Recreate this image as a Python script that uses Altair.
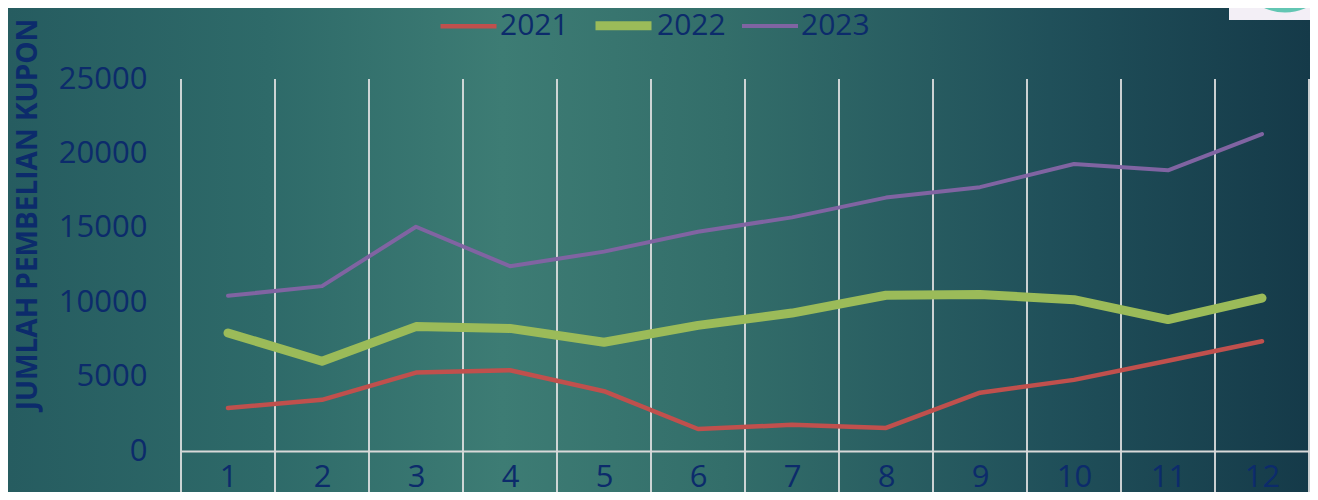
import altair as alt
import pandas as pd

months = [1, 2, 3, 4, 5, 6, 7, 8, 9, 10, 11, 12]
years = ["2021", "2022", "2023"]
y2021 = [2890, 3440, 5270, 5430, 4020, 1480, 1760, 1550, 3920, 4780, 6070, 7380]
y2022 = [7930, 6030, 8360, 8240, 7310, 8440, 9270, 10470, 10520, 10170, 8830, 10280]
y2023 = [10430, 11080, 15070, 12420, 13400, 14740, 15700, 17030, 17730, 19290, 18860, 21300]
y_ticks = [0, 5000, 10000, 15000, 20000, 25000]

colors = ["#C0504D", "#9BBB59", "#8064A2"]
widths = [4.5, 9, 4]
navy = "#0C2B6B"
FONT = "Open Sans"

rows = []
for yr, vals in zip(years, [y2021, y2022, y2023]):
    for m, v in zip(months, vals):
        rows.append({"month": m, "value": v, "year": yr})
df = pd.DataFrame(rows)

bounds = pd.DataFrame({"month": [m - 0.5 for m in months] + [months[-1] + 0.5]})
one = pd.DataFrame({"a": [0]})

W, H = 1128, 372
PL, PT, PR, PB = 173, 71, 1, 41

xscale = alt.Scale(domain=[months[0] - 0.5, months[-1] + 0.5], nice=False, zero=False)
yscale = alt.Scale(domain=[0, 25000], nice=False)

xaxis = alt.Axis(values=months, format="d", ticks=False, grid=False,
                 domainColor="#D9D9D9", domainWidth=2, zindex=1,
                 labelFont=FONT, labelFontSize=31, labelColor=navy,
                 labelPadding=11, labelFlush=False)

bg = alt.Chart(one).mark_rect(
    color=alt.LinearGradient(
        gradient="linear", x1=0, y1=0, x2=1, y2=0,
        stops=[
            alt.GradientStop(color="#265C60", offset=0),
            alt.GradientStop(color="#2E6A69", offset=0.2),
            alt.GradientStop(color="#3D7C74", offset=0.38),
            alt.GradientStop(color="#336E6A", offset=0.55),
            alt.GradientStop(color="#20505A", offset=0.8),
            alt.GradientStop(color="#153A49", offset=1),
        ],
    )
).encode(
    x=alt.value(-PL), x2=alt.value(W + PR),
    y=alt.value(-PT), y2=alt.value(H + PB),
)

deco_rect = alt.Chart(one).mark_rect(color="#F3EFF6").encode(
    x=alt.value(1221 - PL), x2=alt.value(W + PR),
    y=alt.value(-PT), y2=alt.value(12 - PT),
)
deco_circle = alt.Chart(one).mark_point(
    filled=True, shape="circle", color="#62C6B3", opacity=1, size=10568
).encode(
    x=alt.value(1277 - PL), y=alt.value(-47 - PT),
)

grid = alt.Chart(bounds).mark_rule(color="#E4E4E4", strokeWidth=1.75).encode(
    x=alt.X("month:Q", scale=xscale, title=None, axis=xaxis),
    y=alt.value(0), y2=alt.value(H + PB),
)

legend = alt.Legend(
    title=None, orient="none", legendX=257, legendY=-86, direction="horizontal",
    symbolType="stroke", symbolSize=3136, labelFont=FONT, labelFontSize=30,
    labelColor=navy, labelOffset=1, columnPadding=8, padding=0,
)

lines = alt.Chart(df).mark_line(strokeCap="round", strokeJoin="round").encode(
    x=alt.X("month:Q", scale=xscale, title=None, axis=xaxis),
    y=alt.Y("value:Q", scale=yscale,
            axis=alt.Axis(values=y_ticks, format="d", ticks=False, grid=False, domain=False,
                          zindex=1,
                          labelFont=FONT, labelFontSize=31, labelColor=navy, labelPadding=34,
                          title="JUMLAH PEMBELIAN KUPON", titleFont=FONT, titleFontSize=28,
                          titleFontWeight="bold", titleColor=navy, titleAngle=270,
                          titleX=-153, titleY=135, titleAlign="center",
                          titleBaseline="middle")),
    color=alt.Color("year:N", scale=alt.Scale(domain=years, range=colors), legend=legend),
    strokeWidth=alt.StrokeWidth("year:N",
                                scale=alt.Scale(type="ordinal", domain=years, range=widths),
                                legend=legend),
    order=alt.Order("month:Q"),
)

chart = alt.layer(bg, deco_rect, deco_circle, grid, lines).properties(
    width=W, height=H,
    autosize=alt.AutoSizeParams(type="none"),
    padding={"left": PL, "top": PT, "right": PR, "bottom": PB},
    background="#1E5058",
).configure_view(stroke=None)

chart.save("out.html", embed_options={"renderer": "svg", "actions": False})
